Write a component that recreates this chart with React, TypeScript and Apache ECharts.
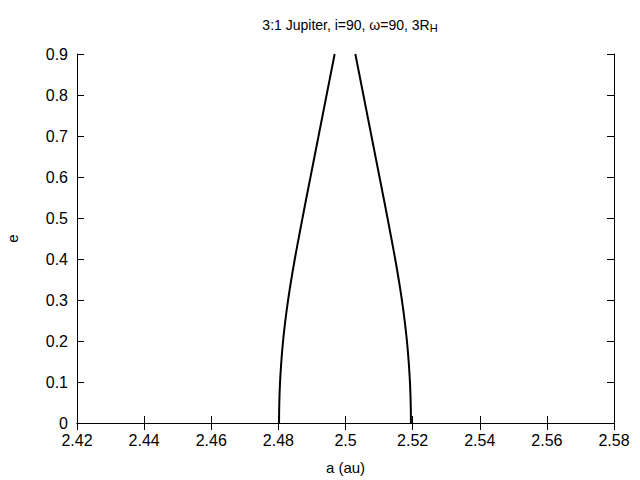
import React, { useEffect, useRef } from "react";
import * as echarts from "echarts";

const eValues = [0, 0.05, 0.1, 0.15, 0.2, 0.25, 0.3, 0.35, 0.4, 0.45, 0.5, 0.55, 0.6, 0.65, 0.7, 0.75, 0.8, 0.85, 0.9];
const leftBranchA = [2.4802, 2.48028, 2.4805, 2.48088, 2.4814, 2.48208, 2.4829, 2.48385, 2.4849, 2.48603, 2.48719, 2.48837, 2.48957, 2.49077, 2.49197, 2.49317, 2.49437, 2.49557, 2.49677];
const rightBranchA = [2.5195, 2.51942, 2.5192, 2.51882, 2.5183, 2.51762, 2.5168, 2.51585, 2.5148, 2.51367, 2.51251, 2.51133, 2.51013, 2.50893, 2.50773, 2.50653, 2.50533, 2.50413, 2.50293];

const titleText = "3:1 Jupiter, i=90, ω=90, 3R";
const titleSub = "H";
const xName = "a (au)";
const yName = "e";

const FONT = "'Liberation Sans', Arial, sans-serif";

export default function App() {
  const ref = useRef<HTMLDivElement>(null);
  useEffect(() => {
    if (!ref.current) return;
    const chart = echarts.init(ref.current, null, { renderer: "svg" });
    const fmt2 = (v: number) => String(parseFloat(v.toFixed(2)));
    const fmt1 = (v: number) => String(parseFloat(v.toFixed(1)));
    const axisLine = { show: true, lineStyle: { color: "#000", width: 1 } };
    const axisTick = { show: true, inside: true, length: 7, lineStyle: { color: "#000", width: 1 } };
    chart.setOption({
      animation: false,
      backgroundColor: "#fff",
      title: {
        text: "{m|" + titleText + "}{s|" + titleSub + "}",
        left: 345,
        textAlign: "center",
        top: 11,
        textStyle: {
          rich: {
            m: { fontFamily: FONT, fontSize: 14, color: "#000", fontWeight: "normal" },
            s: { fontFamily: FONT, fontSize: 11, color: "#000", fontWeight: "normal", verticalAlign: "bottom", padding: [6, 0, 0, 0] },
          },
        },
      },
      grid: { left: 77, right: 26, top: 54, bottom: 57, containLabel: false, outerBoundsMode: "none" },
      xAxis: [
        {
          type: "value",
          min: 2.42,
          max: 2.58,
          interval: 0.02,
          axisLine,
          axisTick,
          splitLine: { show: false },
          axisLabel: { formatter: fmt2, color: "#000", fontFamily: FONT, fontSize: 16, margin: 9 },
          name: xName,
          nameLocation: "middle",
          nameGap: 37,
          nameTextStyle: { color: "#000", fontFamily: FONT, fontSize: 15 },
        },
        {
          type: "value",
          position: "top",
          min: 2.42,
          max: 2.58,
          interval: 0.02,
          axisLine,
          axisTick,
          splitLine: { show: false },
          axisLabel: { show: false },
        },
      ],
      yAxis: [
        {
          type: "value",
          min: 0,
          max: 0.9,
          interval: 0.1,
          axisLine,
          axisTick,
          splitLine: { show: false },
          axisLabel: { formatter: fmt1, color: "#000", fontFamily: FONT, fontSize: 16, margin: 9 },
          name: yName,
          nameLocation: "middle",
          nameGap: 57,
          nameRotate: 90,
          nameTextStyle: { color: "#000", fontFamily: FONT, fontSize: 15 },
        },
        {
          type: "value",
          position: "right",
          min: 0,
          max: 0.9,
          interval: 0.1,
          axisLine,
          axisTick,
          splitLine: { show: false },
          axisLabel: { show: false },
        },
      ],
      series: [
        {
          type: "line",
          data: eValues.map((e, i) => [leftBranchA[i], e]),
          showSymbol: false,
          smooth: 0.5,
          lineStyle: { color: "#000", width: 2 },
          clip: true,
        },
        {
          type: "line",
          data: eValues.map((e, i) => [rightBranchA[i], e]),
          showSymbol: false,
          smooth: 0.5,
          lineStyle: { color: "#000", width: 2 },
          clip: true,
        },
      ],
    });
    return () => chart.dispose();
  }, []);
  return <div ref={ref} style={{ width: 640, height: 480, position: "absolute", left: 0, top: 0 }} />;
}
